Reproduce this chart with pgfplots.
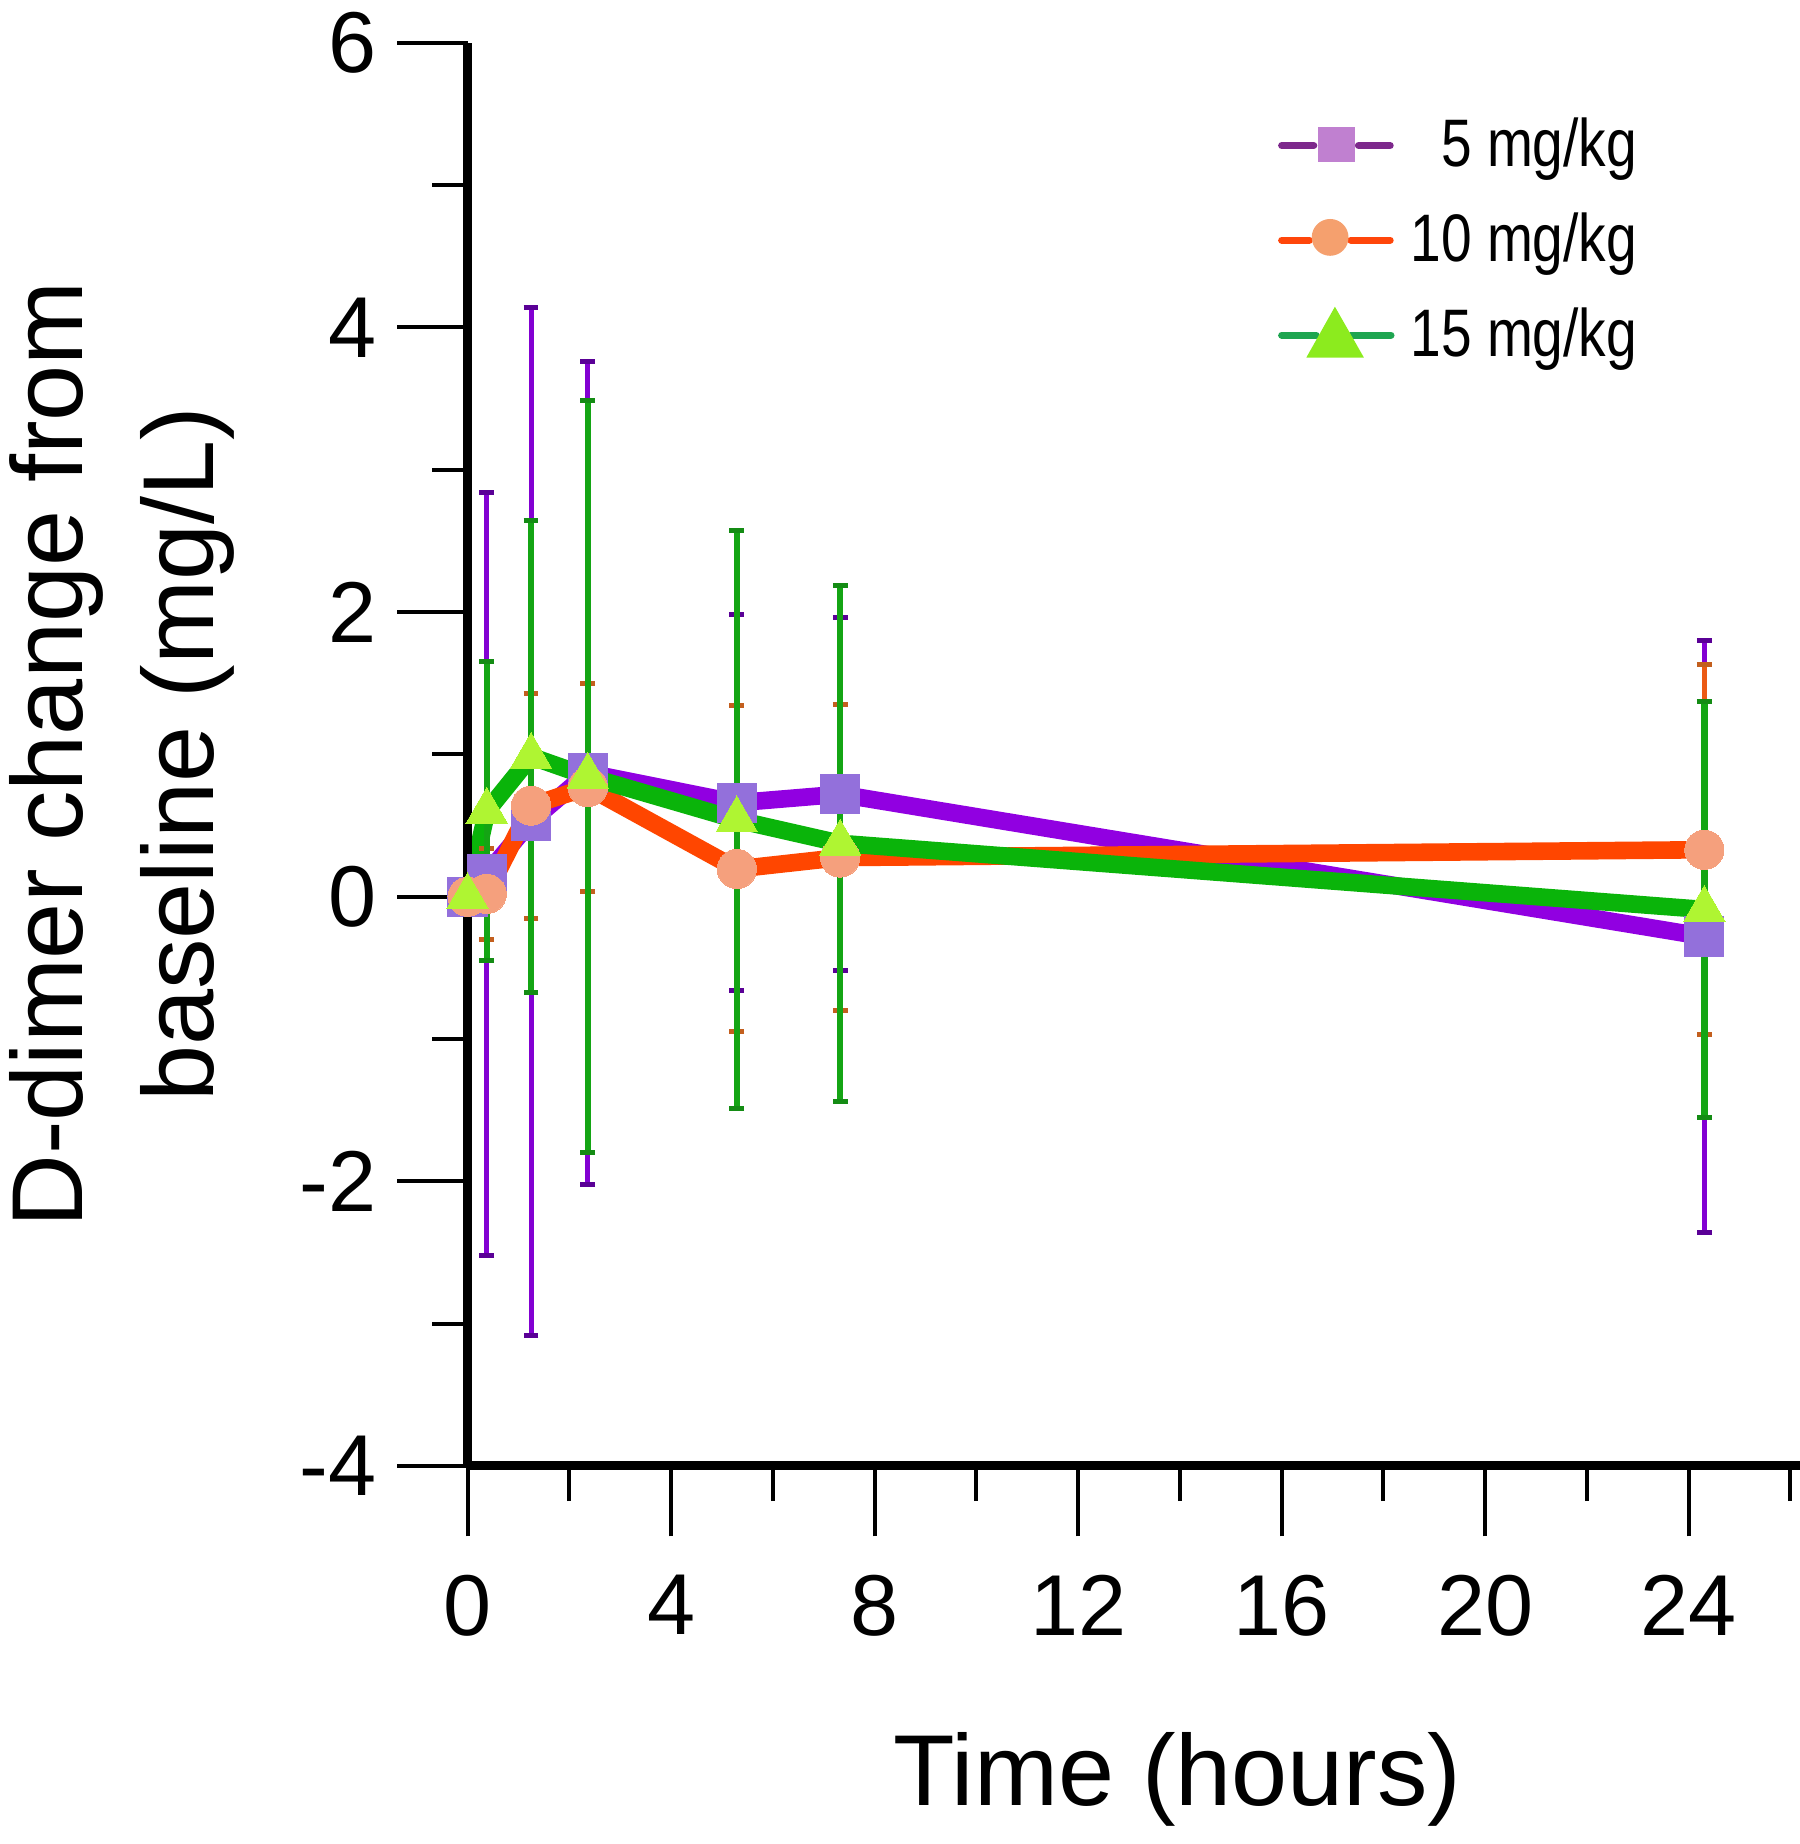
\documentclass[border=0pt]{standalone}
\usepackage{fontspec}
\setmainfont{Liberation Sans}
\newfontfamily\legfont{Liberation Sans}[FakeStretch=0.82]
\usepackage{pgfplots}
\pgfplotsset{compat=1.18}
\definecolor{lnP}{RGB}{145,0,225}
\definecolor{lnO}{RGB}{255,70,0}
\definecolor{lnG}{RGB}{10,180,10}
\definecolor{mkP}{RGB}{147,112,219}
\definecolor{mkO}{RGB}{245,160,125}
\definecolor{mkG}{RGB}{175,245,50}
\definecolor{ebP}{RGB}{130,0,210}
\definecolor{ebO}{RGB}{235,90,20}
\definecolor{ebG}{RGB}{20,165,20}
\definecolor{capP}{RGB}{90,0,150}
\definecolor{capO}{RGB}{195,95,30}
\definecolor{capG}{RGB}{20,140,20}
\definecolor{legP}{RGB}{125,40,140}
\definecolor{legPm}{RGB}{192,128,208}
\definecolor{legO}{RGB}{255,70,10}
\definecolor{legOm}{RGB}{245,160,110}
\definecolor{legG}{RGB}{30,165,80}
\definecolor{legGm}{RGB}{140,235,30}
\begin{document}
\begin{tikzpicture}
\path[use as bounding box] (0,0) rectangle (450pt,461pt);
\begin{axis}[
  at={(116.9pt,94.5pt)}, anchor=south west,
  scale only axis, width=333.1pt, height=355.8pt,
  xmin=0, xmax=26.19, ymin=-4, ymax=6,
  axis x line=bottom, axis y line=left,
  axis line style={line width=2.25pt,-},
  clip=false, axis on top,
  xtick={0,4,8,12,16,20,24}, xticklabels={0,4,8,12,16,20,24},
  minor xtick={2,6,10,14,18,22,26},
  ytick={-4,-2,0,2,4,6}, yticklabels={-4,-2,0,2,4,6},
  minor ytick={-3,-1,1,3,5},
  tick align=outside,
  major tick length=17.6pt, minor tick length=8.8pt,
  tick style={black,line width=1pt},
  ticklabel style={font=\fontsize{21.6}{26}\selectfont, inner sep=0pt},
  xticklabel style={anchor=north, yshift=-9.5pt},
  yticklabel style={anchor=east, xshift=-5pt},
  xlabel={Time (hours)},
  xlabel style={at={(axis description cs:0.533,-0.22)}, anchor=center, font=\fontsize{25.2}{30}\selectfont},
  ylabel={D-dimer change from\\baseline (mg/L)},
  ylabel style={at={(axis description cs:-0.2595,0.5)}, anchor=center, align=center, font=\fontsize{25.2}{32.7}\selectfont},
  legend style={at={(rel axis cs:0.8784,0.9476)}, anchor=north east, draw=none, fill=none, inner sep=0pt, row sep=10pt, column sep=4pt, nodes={inner sep=0pt}, font=\legfont\fontsize{16.8}{20}\selectfont},
  legend cell align=left,
]
% lines with markers
\addplot[forget plot, color=lnP, line width=4.4pt, mark=square*, mark size=4.9pt, mark options={fill=mkP, draw=mkP, line width=0pt}]
  coordinates {(0,0) (0.377,0.16) (1.248,0.53) (2.363,0.87) (5.292,0.66) (7.323,0.72) (24.31,-0.28)};
\addplot[forget plot, color=lnO, line width=4.4pt, mark=*, mark size=4.9pt, mark options={fill=mkO, draw=mkO, line width=0pt}]
  coordinates {(0,0) (0.377,0.02) (1.248,0.64) (2.363,0.77) (5.292,0.195) (7.323,0.275) (24.31,0.33)};
\addplot[forget plot, color=lnG, line width=4.4pt, mark=triangle*, mark size=6pt, mark options={fill=mkG, draw=mkG, line width=0pt}]
  coordinates {(0,0) (0.377,0.60) (1.248,0.985) (2.363,0.845) (5.292,0.54) (7.323,0.375) (24.31,-0.09)};
% error bars
\addplot[forget plot, draw=none, mark=none, error bars/.cd, y dir=both, y explicit,
  error bar style={line width=1.25pt, draw=ebP},
  error mark options={rotate=90, mark size=1.85pt, line width=1.25pt, draw=capP}]
  coordinates {(0.377,0.16) +- (0,2.68) (1.248,0.53) +- (0,3.61) (2.363,0.87) +- (0,2.89) (5.292,0.66) +- (0,1.32) (7.323,0.72) +- (0,1.24) (24.31,-0.28) +- (0,2.08)};
\addplot[forget plot, draw=none, mark=none, error bars/.cd, y dir=both, y explicit,
  error bar style={line width=1.3pt, draw=ebO},
  error mark options={rotate=90, mark size=1.85pt, line width=1.25pt, draw=capO}]
  coordinates {(0.377,0.02) +- (0,0.32) (1.248,0.64) +- (0,0.79) (2.363,0.77) +- (0,0.73) (5.292,0.195) +- (0,1.145) (7.323,0.275) +- (0,1.075) (24.31,0.33) +- (0,1.30)};
\addplot[forget plot, draw=none, mark=none, error bars/.cd, y dir=both, y explicit,
  error bar style={line width=1.6pt, draw=ebG},
  error mark options={rotate=90, mark size=1.85pt, line width=1.25pt, draw=capG}]
  coordinates {(0.377,0.60) +- (0,1.05) (1.248,0.985) +- (0,1.655) (2.363,0.845) +- (0,2.645) (5.292,0.54) +- (0,2.03) (7.323,0.375) +- (0,1.815) (24.31,-0.09) +- (0,1.46)};
% legend
\addlegendimage{legend image code/.code={
  \draw[line width=1.8pt, line cap=round, legP] (0.6pt,0pt)--(8.6pt,0pt) (19.8pt,0pt)--(27.7pt,0pt);
  \fill[legPm] (9.75pt,-4pt) rectangle (18.75pt,4.5pt);}}
\addlegendentry{\phantom{1}5 mg/kg}
\addlegendimage{legend image code/.code={
  \draw[line width=1.8pt, line cap=round, legO] (0.6pt,0pt)--(7.5pt,0pt) (17.9pt,0pt)--(27.7pt,0pt);
  \fill[legOm] (12.7pt,0.7pt) circle (4.4pt);}}
\addlegendentry{10 mg/kg}
\addlegendimage{legend image code/.code={
  \draw[line width=1.8pt, line cap=round, legG] (0.6pt,0pt)--(9.2pt,0pt) (17.9pt,0pt)--(27.9pt,0pt);
  \fill[legGm] (7.1pt,-5.4pt) -- (20.8pt,-5.4pt) -- (13.9pt,6.7pt) -- cycle;}}
\addlegendentry{15 mg/kg}
\end{axis}
\end{tikzpicture}
\end{document}
